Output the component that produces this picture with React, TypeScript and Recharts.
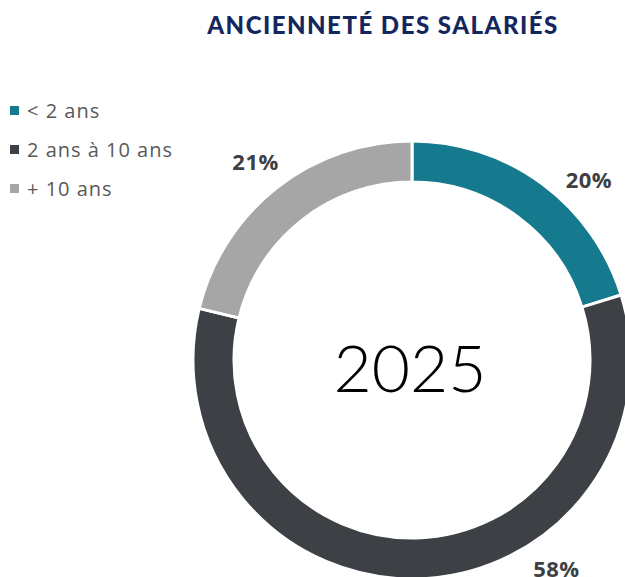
import { PieChart, Pie, Cell } from "recharts";

const categories = ["< 2 ans", "2 ans à 10 ans", "+ 10 ans"];
const shares = [20, 58, 21];
const colors = ["#167a8f", "#3d4045", "#a6a6a6"];
// nudges (degrees) so the labels sit where the original report put them
const labelShift = [-8, 33, 0];

const data = categories.map((name, i) => ({ name, value: shares[i] }));

const RAD = Math.PI / 180;

function SliceLabel(props: any) {
  const { cx, cy, midAngle, outerRadius, index, value } = props;
  const a = (midAngle + labelShift[index]) * RAD;
  const r = outerRadius + 34;
  return (
    <text
      x={cx + r * Math.cos(a)}
      y={cy - r * Math.sin(a)}
      textAnchor="middle"
      dominantBaseline="central"
      fill="#3d4045"
      fontFamily="Open Sans"
      fontWeight={700}
      fontSize={22}
      letterSpacing={0.5}
    >
      {`${value}%`}
    </text>
  );
}

function LegendList() {
  return (
    <div style={{ position: "absolute", left: 10, top: 91 }}>
      {categories.map((c, i) => (
        <div key={c} style={{ display: "flex", alignItems: "center", height: 39 }}>
          <span style={{ width: 9, height: 9, background: colors[i], marginRight: 8 }} />
          <span style={{ fontFamily: "Open Sans", fontSize: 20, letterSpacing: 1, color: "#595959" }}>{c}</span>
        </div>
      ))}
    </div>
  );
}

export default function App() {
  return (
    <div style={{ position: "absolute", left: 0, top: 0, width: 625, height: 577, background: "#fff", overflow: "hidden" }}>
      <PieChart width={625} height={577} margin={{ top: 0, right: 0, bottom: 0, left: 0 }}>
        <Pie
          data={data}
          dataKey="value"
          nameKey="name"
          cx={412}
          cy={360}
          innerRadius={178}
          outerRadius={219}
          startAngle={90}
          endAngle={-270}
          stroke="#ffffff"
          strokeWidth={3}
          labelLine={false}
          label={SliceLabel}
          isAnimationActive={false}
        >
          {data.map((d, i) => (
            <Cell key={d.name} fill={colors[i]} />
          ))}
        </Pie>
      </PieChart>
      <div
        style={{
          position: "absolute",
          left: 206,
          top: 10,
          width: 354,
          textAlign: "center",
          fontFamily: "Lato",
          fontWeight: 900,
          fontSize: 24,
          letterSpacing: 1.5,
          color: "#14265e",
        }}
      >
        ANCIENNETÉ DES SALARIÉS
      </div>
      <div
        style={{
          position: "absolute",
          left: 310,
          top: 322,
          width: 200,
          textAlign: "center",
          fontFamily: "Lato",
          fontWeight: 300,
          fontSize: 66,
          lineHeight: "90px",
          color: "#000",
        }}
      >
        2025
      </div>
      <LegendList />
    </div>
  );
}
